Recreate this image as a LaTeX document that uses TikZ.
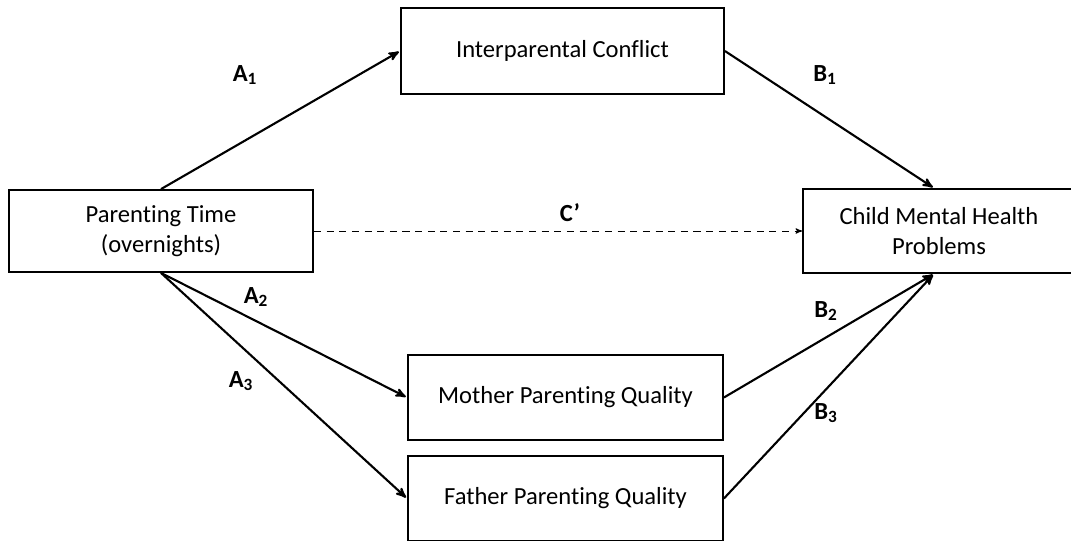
\documentclass[tikz,border=0pt]{standalone}
\usepackage{fontspec}
\setmainfont{Carlito}[Ligatures={NoCommon}]
\usetikzlibrary{arrows,positioning}
\tikzset{
>=stealth',
  varbox/.style={
    rectangle,
    draw=black, line width=1.3pt,
    inner sep=0pt,
    align=center,
    font=\fontsize{17.5}{21}\selectfont},
  link/.style={draw, line width=1.5pt, ->, shorten >=1pt},
  direct/.style={draw, line width=0.7pt, dashed, dash pattern=on 5pt off 4pt, ->},
  pathlabel/.style={font=\fontsize{17.5}{21}\selectfont\bfseries},
}

\begin{document}
\begin{tikzpicture}
  \useasboundingbox (0,0) rectangle (26.775,-13.5);
     \node[varbox, minimum width=7.6cm, minimum height=2.05cm] (ParentingTime) at (4.025,-5.775) {Parenting Time\\(overnights)};
     \node[varbox, minimum width=8.075cm, minimum height=2.15cm] (Conflict) at (14.0625,-1.275) {Interparental Conflict};
     \node[varbox, minimum width=6.8cm, minimum height=2.1cm] (ChildHealth) at (23.475,-5.775) {Child Mental Health\\Problems};
     \node[varbox, minimum width=7.875cm, minimum height=2.125cm] (MotherQuality) at (14.1375,-9.9375) {Mother Parenting Quality};
     \node[varbox, minimum width=7.875cm, minimum height=2.125cm] (FatherQuality) at (14.1375,-12.4625) {Father Parenting Quality};
  % paths through the mediators
     \draw[link] (ParentingTime.north) -- (Conflict.west);
     \draw[link] (Conflict.east) -- (ChildHealth.north -| 23.35,0);
     \draw[link] (ParentingTime.south) -- (MotherQuality.west);
     \draw[link] (ParentingTime.south) -- (FatherQuality.west);
     \draw[link] (MotherQuality.east) -- (ChildHealth.south -| 23.35,0);
     \draw[link] (FatherQuality.east) -- (ChildHealth.south -| 23.35,0);
  % direct effect
     \draw[direct] (ParentingTime.east) -- (ChildHealth.west);
  % labels
     \node[pathlabel] (LabelA1) at (6.125,-1.875) {A\textsubscript{1}};
     \node[pathlabel] (LabelB1) at (20.625,-1.875) {B\textsubscript{1}};
     \node[pathlabel] (LabelC) at (14.25,-5.325) {C’};
     \node[pathlabel] (LabelA2) at (6.4,-7.425) {A\textsubscript{2}};
     \node[pathlabel] (LabelA3) at (6.025,-9.525) {A\textsubscript{3}};
     \node[pathlabel] (LabelB2) at (20.65,-7.775) {B\textsubscript{2}};
     \node[pathlabel] (LabelB3) at (20.65,-10.325) {B\textsubscript{3}};
\end{tikzpicture}
\end{document}
